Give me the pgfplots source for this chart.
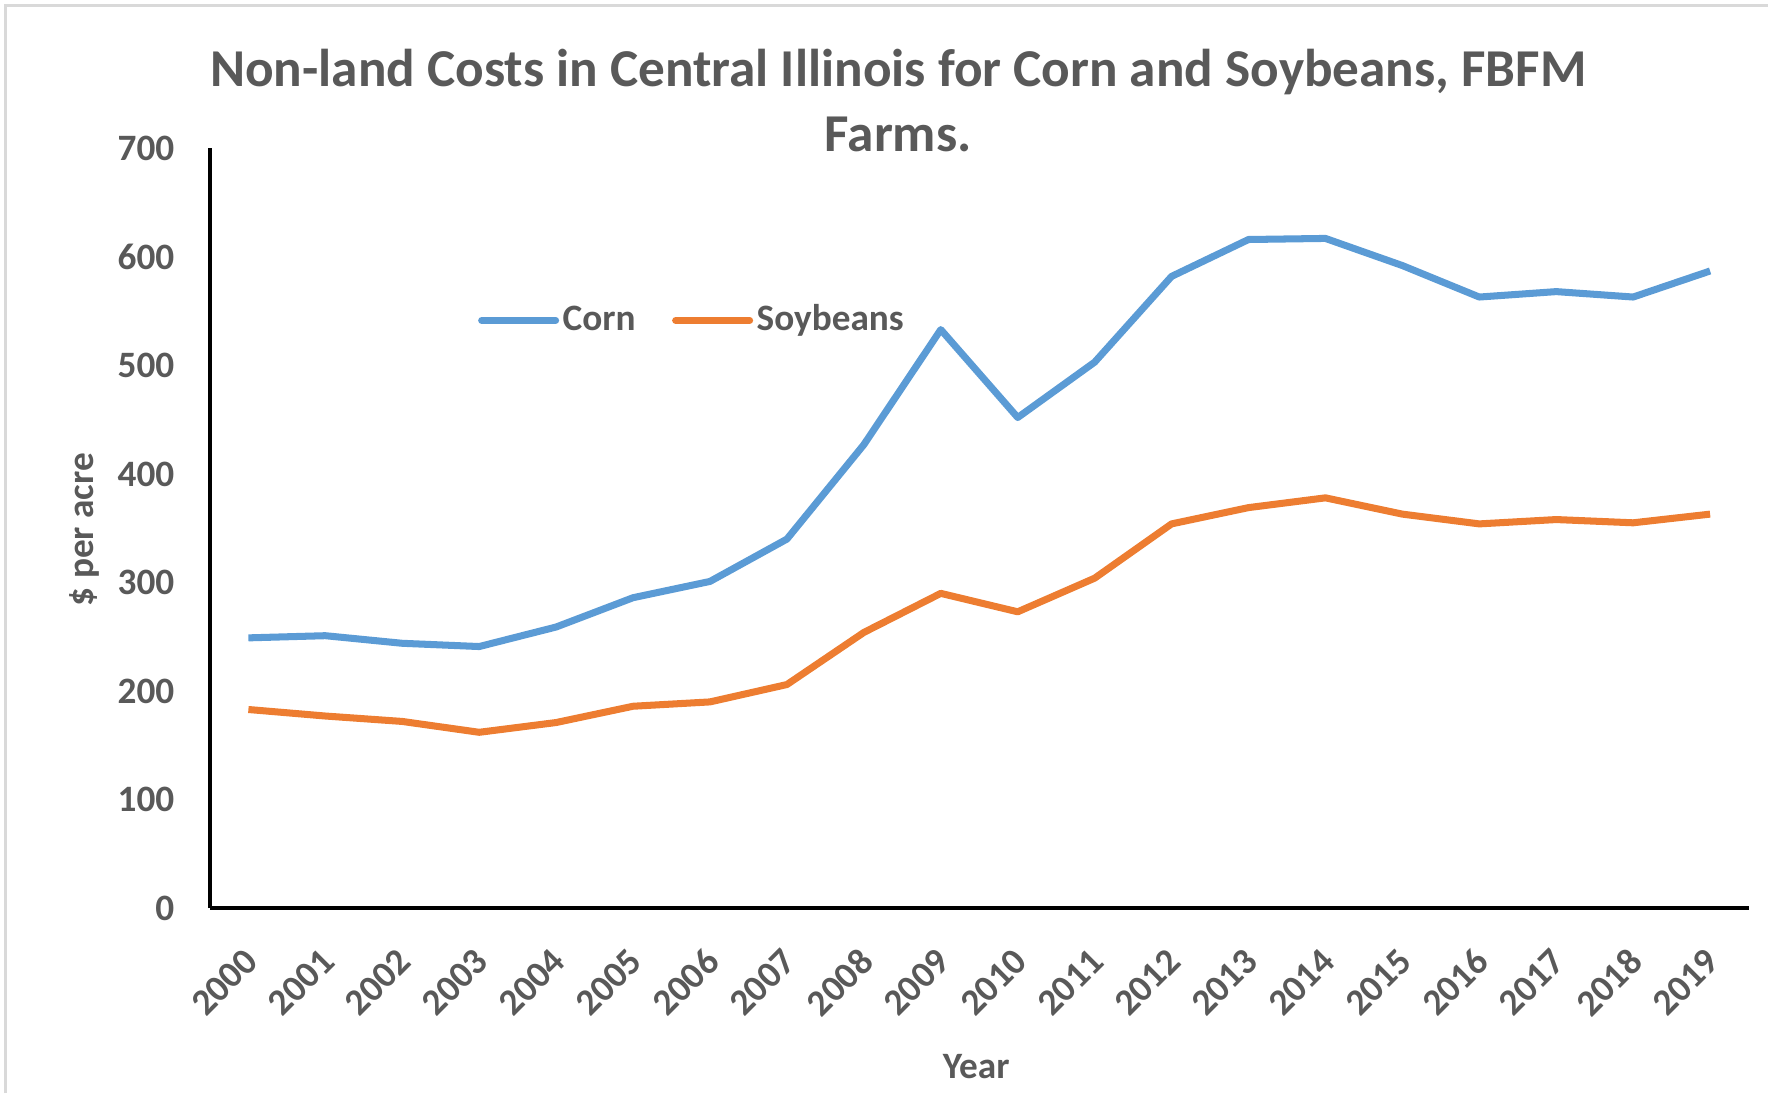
\documentclass[border=0pt]{standalone}
\usepackage{pgfplots}
\pgfplotsset{compat=1.18}
\usepackage{fontspec}
\setmainfont{Carlito}
\definecolor{txt}{HTML}{595959}
\definecolor{cornc}{HTML}{5B9BD5}
\definecolor{soyc}{HTML}{ED7D31}
\definecolor{frame}{HTML}{D9D9D9}
\begin{document}
\begin{tikzpicture}[x=0.01cm,y=0.01cm]
\path (0,0) rectangle (1769,1094);
\draw[frame, line width=0.03cm] (6,0) -- (6,1088) -- (1769,1088);
\begin{axis}[
  at={(2.10cm,1.85cm)}, anchor=south west,
  scale only axis, width=15.39cm, height=7.60cm,
  xmin=-0.5, xmax=19.5, ymin=0, ymax=700,
  axis x line*=bottom, axis y line*=left,
  axis line style={black, line width=1pt},
  axis line style={-},
  major tick length=0pt,
  xtick={0,...,19},
  xticklabels={2000,2001,2002,2003,2004,2005,2006,2007,2008,2009,2010,2011,2012,2013,2014,2015,2016,2017,2018,2019},
  ytick={0,100,...,700},
  tick label style={font=\fontsize{10.6}{12}\selectfont\bfseries, text=txt},
  /pgf/number format/assume math mode=true,
  yticklabel style={anchor=east, inner sep=0pt, xshift=-0.35cm},
  xticklabel style={anchor=east, inner sep=0pt, xshift=0.03cm, yshift=-0.47cm, rotate=45},
  legend style={at={(0.167,0.7735)}, anchor=west, draw=none, fill=none,
    font=\fontsize{10.6}{12}\selectfont\bfseries, text=txt,
    /tikz/every even column/.append style={column sep=0.33cm},
    nodes={inner sep=1pt}},
  legend columns=2,
  legend image code/.code={\draw[#1, line width=2pt, line cap=round] (0cm,0cm) -- (0.74cm,0cm);},
  clip=false,
]
\addplot[cornc, line width=2pt, line join=round] coordinates {
(0,249) (1,251) (2,244) (3,241) (4,259) (5,286) (6,301) (7,340) (8,427) (9,533)
(10,452) (11,503) (12,582) (13,616) (14,617) (15,592) (16,563) (17,568) (18,563) (19,587)};
\addlegendentry{Corn}
\addplot[soyc, line width=2pt, line join=round] coordinates {
(0,183) (1,177) (2,172) (3,162) (4,171) (5,186) (6,190) (7,206) (8,254) (9,290)
(10,273) (11,304) (12,354) (13,369) (14,378) (15,363) (16,354) (17,358) (18,355) (19,363)};
\addlegendentry{Soybeans}
\end{axis}
\node[anchor=base, text=txt, font=\fontsize{15.15}{18}\selectfont\bfseries, inner sep=0pt] at (899,1007) {Non-land Costs in Central Illinois for Corn and Soybeans, FBFM};
\node[anchor=base, text=txt, font=\fontsize{15.15}{18}\selectfont\bfseries, inner sep=0pt] at (899,942) {Farms.};
\node[rotate=90, text=txt, font=\fontsize{10.6}{12}\selectfont\bfseries, inner sep=0pt] at (85,564) {\$ per acre};
\node[text=txt, font=\fontsize{10.6}{12}\selectfont\bfseries, inner sep=0pt] at (977,27) {Year};
\end{tikzpicture}
\end{document}
